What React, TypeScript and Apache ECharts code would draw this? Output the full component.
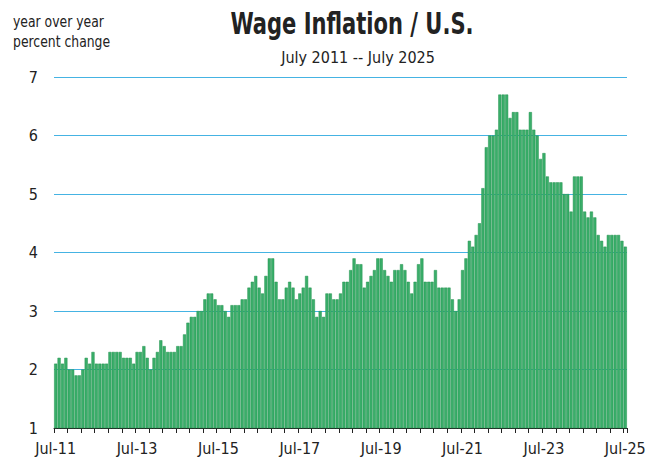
import React, { useEffect, useRef } from "react";
import * as echarts from "echarts";

const START_YEAR = 2011;
const START_MONTH = 6; // July (0-based)
const MONTHS = ["Jan", "Feb", "Mar", "Apr", "May", "Jun", "Jul", "Aug", "Sep", "Oct", "Nov", "Dec"];

const wage2011 = [2.1, 2.2, 2.1, 2.2, 2.0, 2.0];
const wage2012 = [1.9, 1.9, 2.0, 2.2, 2.1, 2.3, 2.1, 2.1, 2.1, 2.1, 2.3, 2.3];
const wage2013 = [2.3, 2.3, 2.2, 2.2, 2.2, 2.1, 2.3, 2.3, 2.4, 2.2, 2.0, 2.2];
const wage2014 = [2.3, 2.5, 2.4, 2.3, 2.3, 2.3, 2.4, 2.4, 2.6, 2.8, 2.9, 2.9];
const wage2015 = [3.0, 3.0, 3.2, 3.3, 3.3, 3.2, 3.1, 3.1, 3.0, 2.9, 3.1, 3.1];
const wage2016 = [3.1, 3.2, 3.2, 3.4, 3.5, 3.6, 3.4, 3.3, 3.6, 3.9, 3.9, 3.5];
const wage2017 = [3.2, 3.2, 3.4, 3.5, 3.4, 3.2, 3.3, 3.4, 3.6, 3.4, 3.2, 2.9];
const wage2018 = [3.0, 2.9, 3.3, 3.3, 3.2, 3.2, 3.3, 3.5, 3.5, 3.7, 3.9, 3.8];
const wage2019 = [3.8, 3.4, 3.5, 3.6, 3.7, 3.9, 3.9, 3.7, 3.6, 3.5, 3.7, 3.7];
const wage2020 = [3.8, 3.7, 3.5, 3.3, 3.5, 3.8, 3.9, 3.5, 3.5, 3.5, 3.7, 3.4];
const wage2021 = [3.4, 3.4, 3.4, 3.2, 3.0, 3.2, 3.7, 3.9, 4.2, 4.1, 4.3, 4.5];
const wage2022 = [5.1, 5.8, 6.0, 6.0, 6.1, 6.7, 6.7, 6.7, 6.3, 6.4, 6.4, 6.1];
const wage2023 = [6.1, 6.1, 6.4, 6.1, 6.0, 5.6, 5.7, 5.3, 5.2, 5.2, 5.2, 5.2];
const wage2024 = [5.0, 5.0, 4.7, 5.3, 5.3, 5.3, 4.7, 4.6, 4.7, 4.6, 4.3, 4.2];
const wage2025 = [4.1, 4.3, 4.3, 4.3, 4.3, 4.2, 4.1];

const yTicks = [1, 2, 3, 4, 5, 6, 7];

const TITLE = "Wage Inflation / U.S.";
const SUBTITLE = "July 2011 -- July 2025";
const UNIT_LINES = ["year over year", "percent change"];

const values = [
  ...wage2011, ...wage2012, ...wage2013, ...wage2014, ...wage2015,
  ...wage2016, ...wage2017, ...wage2018, ...wage2019, ...wage2020,
  ...wage2021, ...wage2022, ...wage2023, ...wage2024, ...wage2025,
];

const categories = values.map((_, i) => {
  const m = START_MONTH + i;
  const y = START_YEAR + Math.floor(m / 12);
  return MONTHS[m % 12] + "-" + String(y).slice(2);
});

const FONT = "'DejaVu Sans Condensed', 'Liberation Sans Narrow', 'Liberation Sans', sans-serif";

export default function App() {
  const ref = useRef<HTMLDivElement>(null);
  useEffect(() => {
    if (!ref.current) return;
    const chart = echarts.init(ref.current, null, { renderer: "svg" });
    chart.setOption({
      animation: false,
      backgroundColor: "#ffffff",
      textStyle: { fontFamily: FONT },
      grid: { left: 54, right: 29, top: 77, bottom: 30, containLabel: false },
      graphic: [
        {
          type: "text",
          x: 352,
          y: 23,
          scaleX: 0.78,
          style: { text: TITLE, fontFamily: FONT, fontSize: 30, fontWeight: "bold", fill: "#222", textAlign: "center", textVerticalAlign: "middle" },
        },
        {
          type: "text",
          x: 358,
          y: 57,
          style: { text: SUBTITLE, fontFamily: FONT, fontSize: 16, fill: "#222", textAlign: "center", textVerticalAlign: "middle" },
        },
        {
          type: "text",
          x: 13,
          y: 22,
          scaleX: 0.92,
          style: { text: UNIT_LINES[0], fontFamily: FONT, fontSize: 15, fill: "#222", textAlign: "left", textVerticalAlign: "middle" },
        },
        {
          type: "text",
          x: 13,
          y: 42,
          scaleX: 0.92,
          style: { text: UNIT_LINES[1], fontFamily: FONT, fontSize: 15, fill: "#222", textAlign: "left", textVerticalAlign: "middle" },
        },
      ],
      xAxis: {
        type: "category",
        data: categories,
        boundaryGap: true,
        axisLine: { show: true, lineStyle: { color: "#222", width: 1 } },
        axisTick: { show: true, interval: 3, length: 5, lineStyle: { color: "#222" } },
        axisLabel: {
          interval: 23,
          color: "#222",
          fontSize: 16,
          fontFamily: FONT,
          margin: 12,
        },
        splitLine: { show: false },
      },
      yAxis: {
        type: "value",
        min: 1,
        max: 7,
        interval: 1,
        axisLine: { show: false },
        axisTick: { show: false },
        axisLabel: {
          color: "#222",
          fontSize: 16,
          fontFamily: FONT,
          margin: 16,
          formatter: (v: number) => (yTicks.includes(v) ? String(v) : ""),
        },
        splitLine: {
          show: true,
          lineStyle: { color: "#45b3e3", width: 1 },
        },
      },
      series: [
        {
          type: "bar",
          data: values,
          barCategoryGap: "8%",
          itemStyle: {
            color: "#3aae6a",
            borderColor: "#23924f",
            borderWidth: 0.5,
          },
        },
      ],
    });
    return () => chart.dispose();
  }, []);
  return <div ref={ref} style={{ width: 656, height: 458, position: "absolute", left: 0, top: 0 }} />;
}
